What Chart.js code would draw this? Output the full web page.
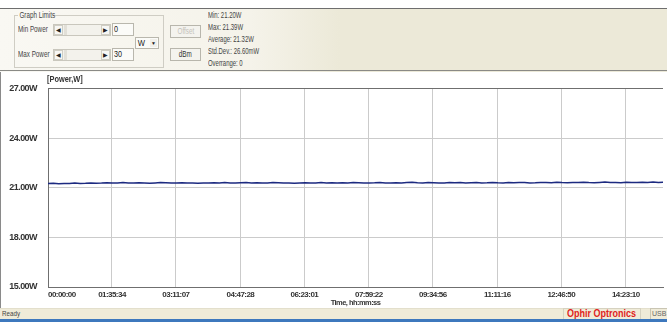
<!DOCTYPE html>
<html><head><meta charset="utf-8">
<script src="https://cdn.jsdelivr.net/npm/chart.js@4/dist/chart.umd.min.js"></script>
<style>
html,body{margin:0;padding:0;width:667px;height:322px;overflow:hidden;background:#fff;font-family:"Liberation Sans",Arial,sans-serif;color:#333;}
.a{position:absolute;white-space:nowrap;}
.cn{display:inline-block;transform:scaleX(0.7);transform-origin:0 50%;}
#panel{left:0;top:8px;width:667px;height:61px;border-top:1px solid #6e6e6e;border-bottom:3px double #8a8a86;background:linear-gradient(90deg,#f9f8f3 0px,#f5f3ea 250px,#ece9d8 340px,#ece9d8 667px);}
.t8{font-size:9px;line-height:10px;color:#444;}
.box{border:1px solid #b9b7ad;background:#fbfbf8;}
.sb{border:1px solid #c9c7bd;background:#f3f2ec;}
.arr{position:absolute;top:0;width:9px;height:100%;background:#f7f7f4;border:1px solid #d0cec4;box-sizing:border-box;font-size:6px;line-height:9px;text-align:center;color:#222;}
.btn{border:1px solid #b8b6ac;background:#f4f3ee;font-size:9px;line-height:11px;text-align:center;}
#chartwrap{left:0;top:72px;width:667px;height:236px;border-left:1px solid #8a8a8a;box-sizing:border-box;background:#fff;}
#status{left:0;top:308px;width:667px;height:11px;background:#efebd8;border-top:1px solid #e3dfcc;}
</style></head><body>

<div id="panel" class="a"></div>
<div class="a" style="left:14px;top:15px;width:148px;height:51px;border:1px solid #cfcdc4;"></div>
<div class="a t8" style="left:18px;top:10px;width:34px;background:#f9f8f3;"><span class="cn" style="padding-left:2px;">Graph Limits</span></div>
<div class="a t8" style="left:18px;top:24px;"><span class="cn">Min Power</span></div>
<div class="a sb" style="left:53px;top:24px;width:56px;height:10px;">
  <div class="arr" style="left:0;">&#9664;</div><div class="a" style="left:10px;top:0;width:3px;height:10px;background:#e2e0d8;"></div><div class="arr" style="right:0;">&#9654;</div></div>
<div class="a box t8" style="left:112px;top:23px;width:19px;height:11px;padding-left:1px;color:#222;"><span class="cn" style="transform:scaleX(0.8);">0</span></div>
<div class="a t8" style="left:18px;top:49px;"><span class="cn">Max Power</span></div>
<div class="a sb" style="left:53px;top:49px;width:56px;height:10px;">
  <div class="arr" style="left:0;">&#9664;</div><div class="a" style="left:10px;top:0;width:3px;height:10px;background:#e2e0d8;"></div><div class="arr" style="right:0;">&#9654;</div></div>
<div class="a box t8" style="left:112px;top:48px;width:19px;height:11px;padding-left:1px;color:#222;"><span class="cn" style="transform:scaleX(0.8);">30</span></div>
<div class="a box t8" style="left:135px;top:37px;width:22px;height:10px;color:#222;"><span class="cn" style="padding-left:2px;transform:scaleX(0.85);">W</span><span class="a" style="right:1px;top:1px;width:7px;height:8px;background:#f1f0ea;font-size:5px;line-height:8px;text-align:center;">&#9660;</span></div>
<div class="a btn" style="left:170px;top:25px;width:29px;height:11px;color:#c4c2ba;"><span class="cn" style="transform-origin:50% 50%;">Offset</span></div>
<div class="a btn" style="left:170px;top:48px;width:29px;height:11px;color:#333;"><span class="cn" style="transform-origin:50% 50%;">dBm</span></div>
<div class="a t8" style="left:208px;top:10px;"><span class="cn" style="transform:scaleX(0.66);">Min: 21.20W</span></div>
<div class="a t8" style="left:208px;top:22px;"><span class="cn" style="transform:scaleX(0.66);">Max: 21.39W</span></div>
<div class="a t8" style="left:208px;top:34px;"><span class="cn" style="transform:scaleX(0.66);">Average: 21.32W</span></div>
<div class="a t8" style="left:208px;top:46px;"><span class="cn" style="transform:scaleX(0.66);">Std.Dev.: 26.60mW</span></div>
<div class="a t8" style="left:208px;top:58px;"><span class="cn" style="transform:scaleX(0.66);">Overrange: 0</span></div>

<div id="chartwrap" class="a"><canvas id="c" width="666" height="236"></canvas></div>
<div class="a" style="left:47px;top:74px;font-size:9.5px;line-height:10px;font-weight:bold;color:#333;"><span class="cn" style="transform:scaleX(0.78);">[Power,W]</span></div>

<div id="status" class="a"></div>
<div class="a" style="left:2px;top:309px;font-size:8px;line-height:10px;color:#444;"><span class="cn" style="transform:scaleX(0.78);">Ready</span></div>
<div class="a" style="left:563px;top:308px;width:76px;height:10px;border:1px solid #d6d2c0;"></div>
<div class="a" style="left:567px;top:308px;font-size:10px;line-height:11px;font-weight:bold;color:#e01d1d;"><span class="cn" style="transform:scaleX(0.9);">Ophir Optronics</span></div>
<div class="a" style="left:650px;top:308px;width:20px;height:10px;border:1px solid #c9c5b3;"></div>
<div class="a" style="left:652px;top:309px;font-size:7px;line-height:10px;color:#666;">USB</div>
<div class="a" style="left:0;top:319px;width:667px;height:3px;background:#3d78bd;"></div>

<script>
// ---- data ----
const xTickSeconds = [0, 5734, 11467, 17248, 22981, 28762, 34496, 40276, 46010, 51790];
const xTickLabels = ['00:00:00','01:35:34','03:11:07','04:47:28','06:23:01','07:59:22','09:34:56','11:11:16','12:46:50','14:23:10'];
const yTickValues = [15, 18, 21, 24, 27];
const sampleStepSeconds = 480;
const powerW = [
21.25,21.27,21.24,21.26,21.25,21.28,21.26,21.27,21.29,21.27,
21.28,21.30,21.28,21.29,21.31,21.29,21.28,21.30,21.29,21.27,
21.29,21.31,21.30,21.28,21.29,21.30,21.28,21.29,21.27,21.29,
21.28,21.30,21.29,21.31,21.29,21.28,21.30,21.32,21.29,21.30,
21.28,21.29,21.31,21.30,21.28,21.29,21.27,21.29,21.30,21.28,
21.29,21.31,21.29,21.30,21.28,21.30,21.29,21.31,21.30,21.28,
21.29,21.30,21.32,21.29,21.28,21.30,21.29,21.31,21.33,21.30,
21.29,21.31,21.30,21.28,21.29,21.31,21.30,21.32,21.29,21.30,
21.31,21.29,21.30,21.32,21.30,21.29,21.31,21.30,21.32,21.31,
21.29,21.30,21.32,21.31,21.30,21.33,21.31,21.30,21.32,21.31,
21.33,21.31,21.30,21.32,21.34,21.31,21.32,21.30,21.33,21.32,
21.31,21.33,21.32,21.34,21.32,21.33
];
const xMaxSeconds = 55130;

const points = powerW.map((v, i) => ({ x: i * sampleStepSeconds, y: v }));
const fam = '"Liberation Sans",Arial,sans-serif';
const xTickFont = { family: fam, size: 8, weight: 'bold', lineHeight: 1 };
const xTitleFont = { family: fam, size: 7.5, weight: 'bold', lineHeight: 1 };

const condense = {
  id: 'condense',
  beforeDraw: ch => { if ('letterSpacing' in ch.ctx) ch.ctx.letterSpacing = '-0.55px'; }
};

new Chart(document.getElementById('c'), {
  type: 'line',
  data: { datasets: [{ data: points, borderColor: '#1c2a80', borderWidth: 1.5, pointRadius: 0, tension: 0, fill: false }] },
  plugins: [condense],
  options: {
    responsive: false, animation: false,
    layout: { padding: { top: 15, right: 0, left: 0, bottom: 0 } },
    plugins: { legend: { display: false }, tooltip: { enabled: false } },
    scales: {
      x: {
        type: 'linear', min: 0, max: xMaxSeconds,
        afterBuildTicks: s => { s.ticks = xTickSeconds.map(v => ({ value: v })).concat([{ value: xMaxSeconds }]); },
        afterFit: s => { s.height = 21; },
        ticks: {
          autoSkip: false, maxRotation: 0, align: 'inner', padding: 4, color: '#333', font: xTickFont,
          callback: (v) => { const k = xTickSeconds.indexOf(v); return k >= 0 ? xTickLabels[k] : ''; }
        },
        grid: { drawTicks: false, lineWidth: 1, color: c => (c.tick && c.tick.value === xMaxSeconds) ? 'rgba(0,0,0,0)' : '#cbcbcb' },
        border: { display: true, color: '#6f6f6f', width: 1 },
        title: { display: true, text: 'Time, hh:mm:ss', color: '#333', font: xTitleFont, padding: { top: 0, bottom: 1 } }
      },
      y: {
        min: 15, max: 27,
        afterBuildTicks: s => { s.ticks = yTickValues.map(v => ({ value: v })); },
        afterFit: s => { s.width = 47; },
        ticks: { padding: 11, color: '#333', font: { family: fam, size: 9, weight: 'bold' }, callback: v => v.toFixed(2) + 'W' },
        grid: { drawTicks: false, lineWidth: 1, color: c => (c.tick && c.tick.value === 27) ? '#6f6f6f' : '#cbcbcb' },
        border: { display: true, color: '#6f6f6f', width: 1 }
      }
    }
  }
});
</script>
</body></html>
